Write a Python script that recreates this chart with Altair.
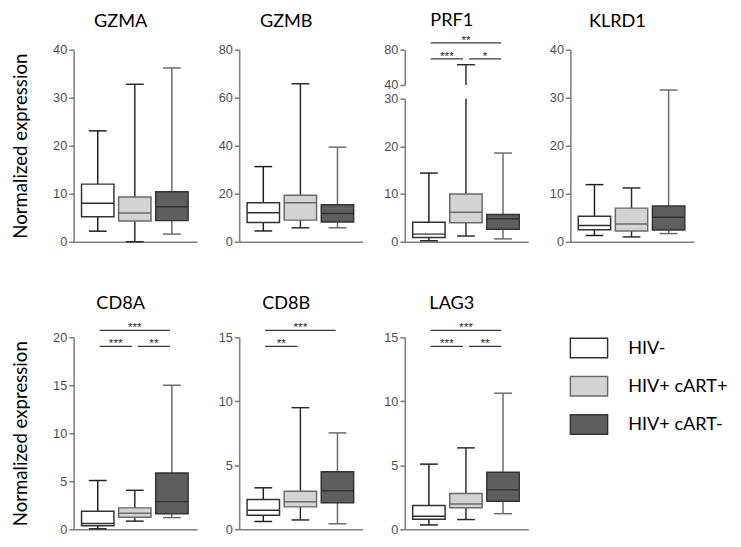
import altair as alt
import pandas as pd

# ---------------- data ----------------
genes = ["GZMA", "GZMB", "PRF1", "KLRD1", "CD8A", "CD8B", "LAG3"]
groups = ["HIV-", "HIV+ cART+", "HIV+ cART-"]

whisker_low = {
    "GZMA": [2.2, 0.0, 1.6], "GZMB": [4.5, 5.8, 5.8], "PRF1": [0.2, 1.2, 0.6],
    "KLRD1": [1.3, 1.0, 1.7], "CD8A": [0.05, 0.85, 1.22], "CD8B": [0.61, 0.73, 0.43],
    "LAG3": [0.34, 0.76, 1.22],
}
quartile1 = {
    "GZMA": [5.2, 4.3, 4.4], "GZMB": [8.0, 9.0, 8.2], "PRF1": [0.9, 4.0, 2.6],
    "KLRD1": [2.5, 2.25, 2.46], "CD8A": [0.38, 1.26, 1.62], "CD8B": [1.09, 1.75, 2.08],
    "LAG3": [0.79, 1.68, 2.19],
}
median = {
    "GZMA": [8.0, 6.0, 7.3], "GZMB": [12.1, 16.2, 11.8], "PRF1": [1.6, 6.2, 4.8],
    "KLRD1": [3.4, 3.7, 5.1], "CD8A": [0.61, 1.66, 2.88], "CD8B": [1.49, 2.15, 3.01],
    "LAG3": [1.02, 1.98, 3.08],
}
quartile3 = {
    "GZMA": [12.0, 9.3, 10.4], "GZMB": [16.2, 19.4, 15.4], "PRF1": [4.1, 10.0, 5.7],
    "KLRD1": [5.3, 7.0, 7.45], "CD8A": [1.87, 2.23, 5.86], "CD8B": [2.33, 2.97, 4.49],
    "LAG3": [1.86, 2.8, 4.45],
}
whisker_high = {
    "GZMA": [23.1, 32.8, 36.2], "GZMB": [31.3, 65.8, 39.4], "PRF1": [14.4, 63.0, 18.6],
    "KLRD1": [11.9, 11.2, 31.6], "CD8A": [5.08, 4.06, 15.0], "CD8B": [3.24, 9.5, 7.53],
    "LAG3": [5.09, 6.36, 10.63],
}

y_max = {"GZMA": 40, "GZMB": 80, "KLRD1": 40, "CD8A": 20, "CD8B": 15, "LAG3": 15}
y_ticks = {
    "GZMA": [0, 10, 20, 30, 40], "GZMB": [0, 20, 40, 60, 80], "KLRD1": [0, 10, 20, 30, 40],
    "CD8A": [0, 5, 10, 15, 20], "CD8B": [0, 5, 10, 15], "LAG3": [0, 5, 10, 15],
}
prf1_lower = [0, 30]
prf1_upper = [40, 80]
prf1_lower_ticks = [0, 10, 20, 30]
prf1_upper_ticks = [40, 80]

# (group a, group b, label, level)  level 1 = lower bracket, 2 = upper bracket
comparisons = {
    "PRF1": [("HIV-", "HIV+ cART+", "***", 1), ("HIV+ cART+", "HIV+ cART-", "*", 1),
             ("HIV-", "HIV+ cART-", "**", 2)],
    "CD8A": [("HIV-", "HIV+ cART+", "***", 1), ("HIV+ cART+", "HIV+ cART-", "**", 1),
             ("HIV-", "HIV+ cART-", "***", 2)],
    "CD8B": [("HIV-", "HIV+ cART+", "**", 1), ("HIV-", "HIV+ cART-", "***", 2)],
    "LAG3": [("HIV-", "HIV+ cART+", "***", 1), ("HIV+ cART+", "HIV+ cART-", "**", 1),
             ("HIV-", "HIV+ cART-", "***", 2)],
}

y_title = "Normalized expression"

# ---------------- style ----------------
W, H = 126, 196
X_DOMAIN = [-0.65, 2.68]
BOX_HALF = 0.437
CAP_HALF = 0.24
FILLS = ["#ffffff", "#d3d3d3", "#5e5e5e"]
EDGES = ["#333333", "#6a6a6a", "#333333"]
WHISK = ["#1e1e1e", "#2a2a2a", "#6a6a6a"]
AX = "#808080"
LEVEL_PX = {2: 7.0, 1: -9.3}
PRF1_A_RANGE = [H, 50]
PRF1_B_RANGE = [36, 0]
TITLE_DY = {"GZMA": 1, "GZMB": 1, "KLRD1": 1, "PRF1": 10,
            "CD8A": 5.5, "CD8B": 5.5, "LAG3": 5.5}
SWATCH = "M-1,-0.526H1V0.526H-1Z"

fill_enc = alt.Fill("group:N", scale=alt.Scale(domain=groups, range=FILLS), legend=None)
stroke_enc = alt.Stroke("group:N", scale=alt.Scale(domain=groups, range=EDGES), legend=None)
line_enc = alt.Color("group:N", scale=alt.Scale(domain=groups, range=WHISK), legend=None)
X_AXIS = alt.Axis(title=None, labels=False, ticks=False)


def xenc(field):
    return alt.X(f"{field}:Q", scale=alt.Scale(domain=X_DOMAIN, nice=False, zero=False),
                 axis=X_AXIS)


def stats_frame(gene):
    return pd.DataFrame({
        "group": groups,
        "i": list(range(len(groups))),
        "mn": whisker_low[gene], "q1": quartile1[gene], "med": median[gene],
        "q3": quartile3[gene], "mx": whisker_high[gene],
    })


def bracket_frame(gene, top, bottom, range_px):
    rows = []
    for a, b, lab, lev in comparisons.get(gene, []):
        ia, ib = groups.index(a), groups.index(b)
        x1 = ia + (0.08 if ia == 1 else 0.05)
        x2 = ib - (0.08 if ib == 1 else 0.05)
        rows.append({"x1": x1, "x2": x2, "xm": (x1 + x2) / 2, "label": lab,
                     "y": top + (top - bottom) * LEVEL_PX[lev] / range_px})
    return pd.DataFrame(rows, columns=["x1", "x2", "xm", "label", "y"])


def with_pos(base):
    return base.transform_calculate(
        lo=f"datum.i - {BOX_HALF}", hi=f"datum.i + {BOX_HALF}",
        clo=f"datum.i - {CAP_HALF}", chi=f"datum.i + {CAP_HALF}")


def box_layers(base, yenc, hi_cap_filter=None):
    b = with_pos(base)
    whisk = b.mark_rule(strokeWidth=1.5).encode(
        x=xenc("i"), y=yenc("mn"), y2=alt.Y2("mx"), color=line_enc)
    cap_lo = b.mark_rule(strokeWidth=1.5).encode(
        x=xenc("clo"), x2=alt.X2("chi"), y=yenc("mn"), color=line_enc)
    cb = b if hi_cap_filter is None else b.transform_filter(hi_cap_filter)
    cap_hi = cb.mark_rule(strokeWidth=1.5).encode(
        x=xenc("clo"), x2=alt.X2("chi"), y=yenc("mx"), color=line_enc)
    box = b.mark_rect(strokeWidth=1.5).encode(
        x=xenc("lo"), x2=alt.X2("hi"), y=yenc("q1"), y2=alt.Y2("q3"),
        fill=fill_enc, stroke=stroke_enc)
    med = b.mark_rule(strokeWidth=1.5).encode(
        x=xenc("lo"), x2=alt.X2("hi"), y=yenc("med"), stroke=stroke_enc)
    return [whisk, cap_lo, cap_hi, box, med]


def bracket_layers(bdf, yenc):
    if len(bdf) == 0:
        return []
    bb = alt.Chart(bdf)
    lines = bb.mark_rule(strokeWidth=1.3, color="#3a3a3a").encode(
        x=xenc("x1"), x2=alt.X2("x2"), y=yenc("y"))
    stars = bb.mark_text(font="Liberation Sans", fontSize=12, baseline="alphabetic",
                         dy=1, color="#222222").encode(
        x=xenc("xm"), y=yenc("y"), text="label:N")
    return [lines, stars]


def title_for(gene):
    return alt.TitleParams(gene, frame="group", dx=-15, dy=TITLE_DY[gene], offset=0,
                           baseline="alphabetic")


def regular_panel(gene, show_ytitle):
    df = stats_frame(gene)
    ymax = y_max[gene]
    axis = alt.Axis(values=y_ticks[gene], title=y_title if show_ytitle else None)
    scale = alt.Scale(domain=[0, ymax], nice=False)

    def yenc(field):
        return alt.Y(f"{field}:Q", scale=scale, axis=axis)

    layers = box_layers(alt.Chart(df), yenc)
    layers += bracket_layers(bracket_frame(gene, ymax, 0, H), yenc)
    return alt.layer(*layers).properties(width=W, height=H, title=title_for(gene))


def prf1_panel():
    gene = "PRF1"
    df = stats_frame(gene)
    scale_a = alt.Scale(domain=prf1_lower, range=PRF1_A_RANGE, clamp=True, nice=False,
                        zero=False)
    axis_a = alt.Axis(values=prf1_lower_ticks, title=None, orient="left")
    scale_b = alt.Scale(domain=prf1_upper, range=PRF1_B_RANGE, nice=False, zero=False)
    axis_b = alt.Axis(values=prf1_upper_ticks, title=None, orient="left")

    def yenc_a(field):
        return alt.Y(f"{field}:Q", scale=scale_a, axis=axis_a)

    def yenc_b(field):
        return alt.Y(f"{field}:Q", scale=scale_b, axis=axis_b)

    lower = alt.layer(*box_layers(alt.Chart(df), yenc_a,
                                  hi_cap_filter=f"datum.mx <= {prf1_lower[1]}"))

    up = alt.Chart(df).transform_filter(f"datum.mx > {prf1_upper[0]}").transform_calculate(
        ub=f"max(datum.q3, {prf1_upper[0]})", clo=f"datum.i - {CAP_HALF}",
        chi=f"datum.i + {CAP_HALF}")
    up_whisk = up.mark_rule(strokeWidth=1.5).encode(
        x=xenc("i"), y=yenc_b("ub"), y2=alt.Y2("mx"), color=line_enc)
    up_cap = up.mark_rule(strokeWidth=1.5).encode(
        x=xenc("clo"), x2=alt.X2("chi"), y=yenc_b("mx"), color=line_enc)
    upper = alt.layer(up_whisk, up_cap,
                      *bracket_layers(bracket_frame(gene, prf1_upper[1], prf1_upper[0],
                                                    PRF1_B_RANGE[0] - PRF1_B_RANGE[1]),
                                      yenc_b))
    return alt.layer(lower, upper).resolve_scale(y="independent").properties(
        width=W, height=H, title=title_for(gene))


def legend_panel():
    df = pd.DataFrame({"group": groups})
    yl = alt.Y("group:N", scale=alt.Scale(type="point", domain=groups, range=[11, 89],
                                          padding=0), axis=None)
    swatch = alt.Chart(df).mark_point(shape=SWATCH, size=1444, filled=True, opacity=1,
                                      strokeWidth=1.5).encode(
        x=alt.value(19), y=yl, fill=fill_enc, stroke=stroke_enc)
    labels = alt.Chart(df).mark_text(align="left", baseline="middle", font="Lato",
                                     fontSize=18.5, color="black").encode(
        x=alt.value(59), y=yl, text="group:N")
    return alt.layer(swatch, labels).properties(width=W, height=H)


panels = []
for g in genes:
    if g == "PRF1":
        panels.append(prf1_panel())
    else:
        panels.append(regular_panel(g, g in ("GZMA", "CD8A")))
panels.append(legend_panel())

chart = alt.concat(
    *panels, columns=4, spacing={"row": 97.5, "column": 43}, bounds="flush"
).properties(
    padding={"left": 3, "top": -3, "right": 5, "bottom": 5}
).configure_view(stroke=None).configure_axis(
    grid=False, domainColor=AX, domainWidth=1.6, tickColor=AX, tickWidth=1.6, tickSize=5,
    labelColor="#4d4d4d", labelFont="Liberation Sans", labelFontSize=13, labelPadding=2,
    titleFont="Lato", titleFontSize=19, titleFontWeight="normal", titleColor="black",
    titlePadding=23,
).configure_title(font="Lato", fontSize=18.5, fontWeight="normal", color="black",
                  anchor="middle")

chart.save("out.html", embed_options={"renderer": "svg", "actions": False})
